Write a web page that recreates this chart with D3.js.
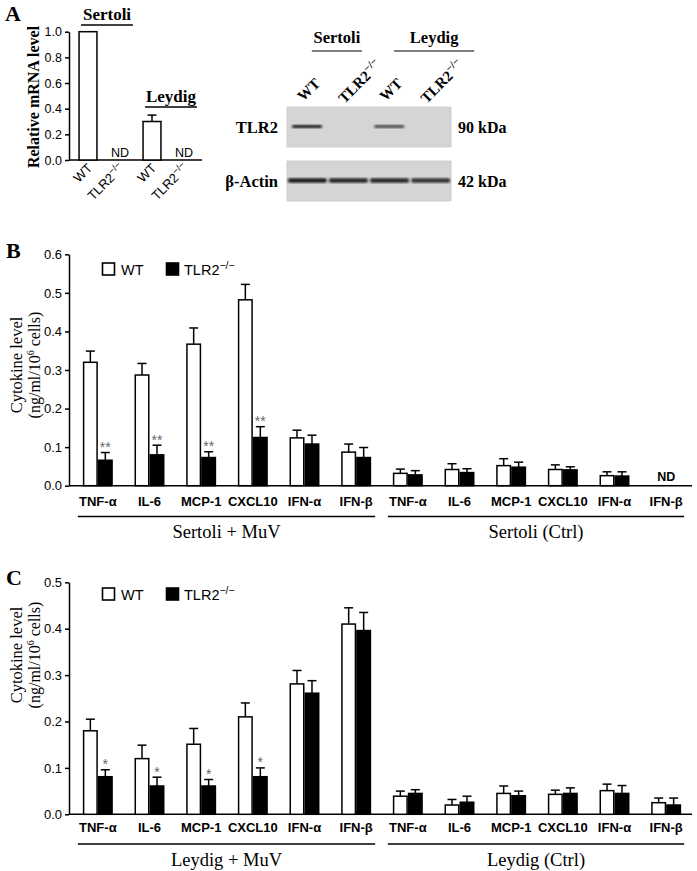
<!DOCTYPE html>
<html><head><meta charset="utf-8">
<script src="https://cdn.jsdelivr.net/npm/d3@7"></script>
<style>
body{margin:0;background:#fff;}
svg{display:block;}
.sans{font-family:"Liberation Sans",Arial,sans-serif;}
.serif{font-family:"Liberation Serif","Times New Roman",serif;}
.bold{font-weight:bold;}
</style></head>
<body>
<svg id="fig" width="697" height="871"></svg>
<script>
// ---------- Panel A data ----------
const aCategories = ["WT","TLR2","WT","TLR2"];
const aValues = [1.0, null, 0.30, null];
const aErrors = [0, null, 0.05, null];
const aTicks = [0,0.2,0.4,0.6,0.8,1.0];
const blotLanes = ["WT","TLR2","WT","TLR2"];
const tlr2Band = [1.0, 0, 0.75, 0];
const actinBand = [1.0, 0.95, 0.95, 0.9];

// ---------- Panels B / C data ----------
const cytokines = ["TNF-α","IL-6","MCP-1","CXCL10","IFN-α","IFN-β"];
const conditionsB = ["Sertoli + MuV","Sertoli (Ctrl)"];
const conditionsC = ["Leydig + MuV","Leydig (Ctrl)"];
const bWT    = [0.32,0.287,0.367,0.482,0.124,0.087, 0.032,0.042,0.052,0.042,0.026,null];
const bWTerr = [0.029,0.030,0.042,0.040,0.020,0.021, 0.011,0.015,0.018,0.012,0.010,null];
const bKO    = [0.066,0.080,0.073,0.125,0.108,0.073, 0.028,0.034,0.048,0.041,0.025,null];
const bKOerr = [0.020,0.025,0.015,0.028,0.023,0.026, 0.011,0.010,0.013,0.008,0.011,null];
const bSig   = ["**","**","**","**","","", "","","","","",""];
const bTicks = [0,0.1,0.2,0.3,0.4,0.5,0.6];
const cWT    = [0.18,0.12,0.151,0.21,0.281,0.41, 0.039,0.020,0.045,0.043,0.051,0.025];
const cWTerr = [0.025,0.029,0.034,0.030,0.029,0.035, 0.011,0.012,0.016,0.009,0.014,0.010];
const cKO    = [0.081,0.061,0.061,0.081,0.261,0.396, 0.045,0.026,0.040,0.045,0.045,0.020];
const cKOerr = [0.015,0.019,0.014,0.019,0.027,0.039, 0.008,0.013,0.010,0.012,0.017,0.015];
const cSig   = ["*","*","*","*","","", "","","","","",""];
const cTicks = [0,0.1,0.2,0.3,0.4,0.5];

const svg = d3.select("#fig");

function tlrText(sel, size){
  sel.append("tspan").text("TLR2");
  sel.append("tspan").attr("dy", -size*0.4).attr("font-size", size*0.72).text("−/−");
}

// ================= Panel A (bar chart) =================
svg.append("text").attr("class","serif bold").attr("x",5).attr("y",21).attr("font-size",22).text("A");
const ax = d3.scaleBand().domain(d3.range(4)).range([72,200]).paddingInner(0.44).paddingOuter(0.22);
const ay = d3.scaleLinear().domain([0,1]).range([160,31.7]);
const gA = svg.append("g");
gA.append("g").attr("transform","translate(69,0)").attr("class","sans")
  .call(d3.axisLeft(ay).tickValues(aTicks).tickFormat(d3.format(".1f")).tickSize(4).tickSizeOuter(0).tickPadding(3))
  .call(g=>{g.selectAll("text").attr("font-size",12.5).attr("fill","#000");
            g.selectAll("line,path").attr("stroke","#000").attr("stroke-width",1.5);});
gA.append("line").attr("x1",69).attr("x2",202).attr("y1",ay(0)).attr("y2",ay(0)).attr("stroke","#000").attr("stroke-width",1.5);
aValues.forEach((v,i)=>{
  const x = ax(i), w = ax.bandwidth(), cx = x + w/2;
  if(v===null){
    gA.append("text").attr("class","sans").attr("x",cx).attr("y",ay(0)-3).attr("text-anchor","middle")
      .attr("font-size",12.5).text("ND");
  } else {
    if(aErrors[i]>0){
      gA.append("line").attr("x1",cx).attr("x2",cx).attr("y1",ay(v)).attr("y2",ay(v+aErrors[i])).attr("stroke","#000").attr("stroke-width",1.5);
      gA.append("line").attr("x1",cx-4.5).attr("x2",cx+4.5).attr("y1",ay(v+aErrors[i])).attr("y2",ay(v+aErrors[i])).attr("stroke","#000").attr("stroke-width",1.5);
    }
    gA.append("rect").attr("x",x).attr("y",ay(v)).attr("width",w).attr("height",ay(0)-ay(v))
      .attr("fill","#fff").attr("stroke","#000").attr("stroke-width",1.5);
  }
  const t = gA.append("text").attr("class","sans").attr("font-size",13).attr("text-anchor","end")
    .attr("transform",`translate(${cx+5},${ay(0)+9}) rotate(-45)`);
  if(aCategories[i]==="WT") t.text("WT"); else tlrText(t,13);
});
[["Sertoli",0,1,25],["Leydig",2,3,107]].forEach(([lab,i0,i1,yy])=>{
  const x0 = ax(i0)+2, x1 = ax(i1)+ax.bandwidth()+4;
  gA.append("line").attr("x1",x0).attr("x2",x1).attr("y1",yy).attr("y2",yy).attr("stroke","#000").attr("stroke-width",1.3);
  gA.append("text").attr("class","serif bold").attr("font-size",17).attr("text-anchor","middle")
    .attr("x",(x0+x1)/2).attr("y",yy-5).text(lab);
});
gA.append("text").attr("class","serif bold").attr("font-size",16).attr("text-anchor","middle")
  .attr("transform","translate(39,97) rotate(-90)").text("Relative mRNA level");

// ================= Panel A (western blot) =================
const defs = svg.append("defs");
defs.append("filter").attr("id","blur").append("feGaussianBlur").attr("stdDeviation",1.0);
const bx = d3.scaleBand().domain(d3.range(4)).range([287,451]).paddingInner(0.05).paddingOuter(0.02);
const gW = svg.append("g");
[[107,tlr2Band,"TLR2","90 kDa",3.0],[161,actinBand,"β-Actin","42 kDa",4.5]].forEach(([top,band,lab,kda,bh])=>{
  gW.append("rect").attr("x",287).attr("y",top).attr("width",164).attr("height",40).attr("fill","#d5d5d5")
    .attr("stroke","#c8c8c8").attr("stroke-width",0.8);
  band.forEach((b,i)=>{
    if(b<=0) return;
    const w = bx.bandwidth()*(lab==="TLR2"? 0.78:1);
    const x = lab==="TLR2" ? bx(i)+4 : bx(i);
    gW.append("rect").attr("x",x).attr("y",top+19.5-bh/2).attr("width",w).attr("height",bh)
      .attr("rx",2).attr("fill",d3.interpolateRgb("#d5d5d5","#1e1e1e")(b)).attr("filter","url(#blur)");
  });
  gW.append("text").attr("class","serif bold").attr("font-size",16.5).attr("text-anchor","end").attr("x",278).attr("y",top+25.5).text(lab);
  gW.append("text").attr("class","serif bold").attr("font-size",16).attr("x",458).attr("y",top+25.5).text(kda);
});
blotLanes.forEach((l,i)=>{
  const cx = bx(i)+bx.bandwidth()/2;
  const t = gW.append("text").attr("class","serif bold").attr("font-size",15)
    .attr("transform",`translate(${cx-4},${l==="WT"?102:104}) rotate(-45)`);
  if(l==="WT") t.text("WT"); else tlrText(t,15);
});
[["Sertoli",0,1],["Leydig",2,3]].forEach(([lab,i0,i1])=>{
  const x0 = bx(i0)+24, x1 = bx(i1)+bx.bandwidth()+ (i1===1?-6:24);
  gW.append("line").attr("x1",x0).attr("x2",x1).attr("y1",51).attr("y2",51).attr("stroke","#000").attr("stroke-width",1.2);
  gW.append("text").attr("class","serif bold").attr("font-size",16.5).attr("text-anchor","middle").attr("x",(x0+x1)/2).attr("y",43).text(lab);
});

// ================= Panels B and C =================
function cytoPanel(opts){
  const {letter, letterY, y0, y1, vmax, ticks, wt, wtErr, ko, koErr, sig, conds, labY, lineY, condY, legY, ylabY} = opts;
  const g = svg.append("g");
  const groups = d3.range(12);
  const x0 = d3.scaleBand().domain(groups).range([72,692]).paddingInner(0.42).paddingOuter(0.21);
  const x1 = d3.scaleBand().domain(["WT","KO"]).range([0,x0.bandwidth()]);
  const y = d3.scaleLinear().domain([0,vmax]).range([y0,y1]);
  g.append("text").attr("class","serif bold").attr("x",6).attr("y",letterY).attr("font-size",22).text(letter);
  g.append("g").attr("transform","translate(69,0)").attr("class","sans")
    .call(d3.axisLeft(y).tickValues(ticks).tickFormat(d3.format(".1f")).tickSize(4).tickSizeOuter(0).tickPadding(3))
    .call(s=>{s.selectAll("text").attr("font-size",13).attr("fill","#000");
              s.selectAll("line,path").attr("stroke","#000").attr("stroke-width",1.5);});
  g.append("line").attr("x1",69).attr("x2",692).attr("y1",y(0)).attr("y2",y(0)).attr("stroke","#000").attr("stroke-width",1.5);
  const series = [["WT",wt,wtErr,"#fff"],["KO",ko,koErr,"#000"]];
  groups.forEach(i=>{
    if(wt[i]===null && ko[i]===null){
      g.append("text").attr("class","sans bold").attr("font-size",12.5)
        .attr("text-anchor","middle").attr("x",x0(i)+x0.bandwidth()/2).attr("y",y(0)-5).text("ND");
    }
    series.forEach(([k,vals,errs,fill])=>{
      const v = vals[i]; if(v===null) return;
      const x = x0(i)+x1(k), w = x1.bandwidth(), cx = x+w/2, e = v+errs[i];
      g.append("line").attr("x1",cx).attr("x2",cx).attr("y1",y(v)).attr("y2",y(e)).attr("stroke","#000").attr("stroke-width",1.5);
      g.append("line").attr("x1",cx-4.5).attr("x2",cx+4.5).attr("y1",y(e)).attr("y2",y(e)).attr("stroke","#000").attr("stroke-width",1.5);
      g.append("rect").attr("x",x+0.75).attr("y",y(v)).attr("width",w-1.5).attr("height",y(0)-y(v))
        .attr("fill",fill).attr("stroke","#000").attr("stroke-width",1.5);
      if(k==="KO" && sig[i]){
        g.append("text").attr("class","sans").attr("font-size",14).attr("fill","#666").attr("text-anchor","middle")
          .attr("x",cx).attr("y",y(e)-0.5).text(sig[i]);
      }
    });
    g.append("text").attr("class","sans bold").attr("font-size",13)
      .attr("text-anchor","middle").attr("x",x0(i)+x0.bandwidth()/2).attr("y",labY).text(cytokines[i%6]);
  });
  conds.forEach((c,j)=>{
    const a = x0(j*6)-5, b = x0(j*6+5)+x0.bandwidth()+(j===0?4:3);
    g.append("line").attr("x1",a).attr("x2",b).attr("y1",lineY).attr("y2",lineY).attr("stroke","#000").attr("stroke-width",1.3);
    g.append("text").attr("class","serif").attr("font-size",18.5).attr("text-anchor","middle")
      .attr("x",(a+b)/2).attr("y",condY).text(c);
  });
  // legend
  const lg = g.append("g").attr("class","sans");
  lg.append("rect").attr("x",102.5).attr("y",legY).attr("width",12).attr("height",12).attr("fill","#fff").attr("stroke","#000").attr("stroke-width",1.6);
  lg.append("text").attr("x",121).attr("y",legY+12).attr("font-size",14.5).text("WT");
  lg.append("rect").attr("x",166.5).attr("y",legY).attr("width",12).attr("height",12).attr("fill","#000").attr("stroke","#000").attr("stroke-width",1.6);
  tlrText(lg.append("text").attr("x",184).attr("y",legY+12).attr("font-size",14.5),14.5);
  // y label
  const yl = g.append("text").attr("class","serif").attr("font-size",16.5).attr("text-anchor","middle")
    .attr("transform",`translate(22,${ylabY}) rotate(-90)`);
  yl.append("tspan").attr("x",0).attr("dy",0).text("Cytokine level");
  const yl2 = g.append("text").attr("class","serif").attr("font-size",16).attr("text-anchor","middle")
    .attr("transform",`translate(39.5,${ylabY}) rotate(-90)`);
  yl2.append("tspan").text("(ng/ml/10");
  yl2.append("tspan").attr("dy",-6).attr("font-size",10).text("6");
  yl2.append("tspan").attr("dy",6).text(" cells)");
}

cytoPanel({letter:"B", letterY:258, y0:485.7, y1:254.3, vmax:0.6, ticks:bTicks,
  wt:bWT, wtErr:bWTerr, ko:bKO, koErr:bKOerr, sig:bSig, conds:conditionsB,
  labY:506, lineY:516.5, condY:538, legY:263, ylabY:365});
cytoPanel({letter:"C", letterY:585, y0:814.3, y1:582.3, vmax:0.5, ticks:cTicks,
  wt:cWT, wtErr:cWTerr, ko:cKO, koErr:cKOerr, sig:cSig, conds:conditionsC,
  labY:832, lineY:844, condY:866, legY:588, ylabY:655});
</script>
</body></html>
